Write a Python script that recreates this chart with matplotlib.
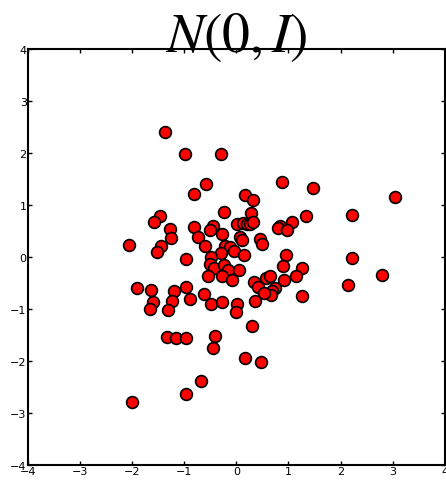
import matplotlib
matplotlib.use("Agg")
import matplotlib.pyplot as plt
import numpy as np

# samples
x = [-1.38, -0.98, -0.30, -0.59, -0.82, -0.23, -1.47, -1.59, 0.02, -1.28,
     -1.26, -0.82, -0.44, -0.51, -0.73, -0.28, -0.61, -2.07, -1.45, -1.53,
     -0.22, -0.13, -0.05, -0.30, -0.96, -0.49, -0.51, -0.43, -0.23, -0.17,
     0.05, -0.54, -0.28, -0.09, -1.91, -1.64, -1.19, -0.96, -0.63, -0.89,
     -1.24, -1.61, -1.66, -1.31, -0.49, -0.28, 0.02, -0.01, -1.33, -1.16,
     -0.96, -0.42, -0.45, -0.68, -0.96, -2.01, 0.88, 1.47, 0.16, 0.32,
     2.22, 0.28, 0.13, 0.20, 0.27, 0.32, 1.07, 1.33, 0.84, 0.80,
     0.98, 0.07, 0.10, 0.46, 0.50, 0.14, 0.95, 2.22, 0.89, 1.26,
     1.14, 0.34, 0.41, 0.56, 0.64, 0.91, 0.75, 0.68, 0.66, 0.53,
     1.26, 2.14, 0.35, 0.30, 0.16, 0.47, 3.05, 2.80]
y = [2.40, 1.98, 1.98, 1.40, 1.21, 0.86, 0.78, 0.68, 0.64, 0.53,
     0.37, 0.58, 0.59, 0.51, 0.38, 0.44, 0.22, 0.23, 0.22, 0.09,
     0.22, 0.20, 0.12, 0.08, -0.03, 0.00, -0.13, -0.21, -0.15, -0.25,
     -0.24, -0.37, -0.37, -0.45, -0.60, -0.63, -0.65, -0.58, -0.72, -0.81,
     -0.84, -0.86, -0.99, -1.01, -0.91, -0.86, -0.91, -1.06, -1.54, -1.56,
     -1.56, -1.52, -1.75, -2.38, -2.63, -2.78, 1.45, 1.32, 1.19, 1.10,
     0.81, 0.85, 0.66, 0.64, 0.64, 0.67, 0.68, 0.78, 0.60, 0.55,
     0.52, 0.38, 0.33, 0.34, 0.25, 0.03, 0.03, -0.01, -0.17, -0.21,
     -0.37, -0.48, -0.57, -0.41, -0.37, -0.44, -0.60, -0.66, -0.73, -0.69,
     -0.74, -0.53, -0.84, -1.33, -1.94, -2.01, 1.15, -0.35]
ticks = [-4, -3, -2, -1, 0, 1, 2, 3, 4]

fig = plt.figure(figsize=(4.46, 4.85), dpi=100)
ax = fig.add_axes([0.063, 0.039, 0.934, 0.858])
ax.scatter(x, y, s=72, c="red", edgecolors="black", linewidths=1.2, zorder=3)
ax.set_xlim(-4, 4)
ax.set_ylim(-4, 4)
ax.set_xticks(ticks)
ax.set_yticks(ticks)
ax.tick_params(direction="in", length=3, width=1, top=True, right=True,
               labelsize=8, pad=1)
for sp in ax.spines.values():
    sp.set_linewidth(1.5)

plt.rcParams["mathtext.fontset"] = "stix"
ax.text(0.5, 0.995, r"$N(0,I)$", transform=ax.transAxes, ha="center",
        va="baseline", fontsize=40)

fig.savefig("out.png", dpi=100)
